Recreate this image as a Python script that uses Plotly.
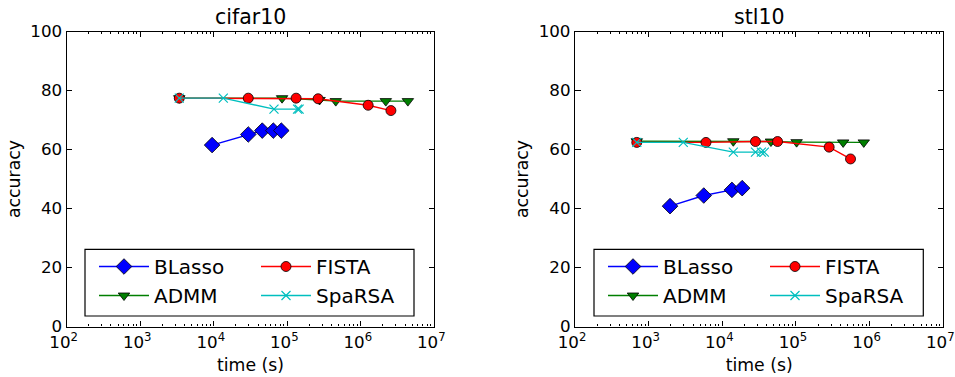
import plotly.graph_objects as go

# ---- data ----
datasets = ["cifar10", "stl10"]
methods = ["BLasso", "ADMM", "FISTA", "SpaRSA"]

cifar_blasso_t = [9500, 29500, 45700, 64600, 83000]
cifar_blasso_acc = [61.5, 65.1, 66.4, 66.4, 66.4]
cifar_admm_t = [3400, 85000, 275000, 457000, 2190000, 4370000]
cifar_admm_acc = [77.4, 77.4, 76.8, 76.4, 76.4, 76.4]
cifar_fista_t = [3400, 29500, 132000, 263000, 1260000, 2570000]
cifar_fista_acc = [77.4, 77.4, 77.4, 77.2, 75.0, 73.2]
cifar_sparsa_t = [3400, 13500, 66000, 138000, 145000]
cifar_sparsa_acc = [77.4, 77.4, 73.7, 73.7, 73.7]

stl_blasso_t = [1950, 5600, 13500, 18600]
stl_blasso_acc = [40.8, 44.4, 46.3, 46.9]
stl_admm_t = [690, 14100, 45700, 102000, 437000, 832000]
stl_admm_acc = [62.8, 62.8, 62.7, 62.5, 62.4, 62.4]
stl_fista_t = [690, 6000, 28200, 56200, 282000, 550000]
stl_fista_acc = [62.4, 62.4, 62.7, 62.7, 60.8, 56.8]
stl_sparsa_t = [690, 2950, 14100, 28200, 33900, 37200]
stl_sparsa_acc = [62.4, 62.4, 59.1, 59.1, 59.1, 59.1]

x_tickvals = [1e2, 1e3, 1e4, 1e5, 1e6, 1e7]
x_ticktext = ["10<sup>2</sup>", "10<sup>3</sup>", "10<sup>4</sup>",
              "10<sup>5</sup>", "10<sup>6</sup>", "10<sup>7</sup>"]
y_tickvals = [0, 20, 40, 60, 80, 100]

# ---- styles ----
FONT = "DejaVu Sans"
styles = {
    "BLasso": dict(color="#0000ff", symbol="diamond", size=12,
                   mline=dict(color="black", width=0.8)),
    "ADMM": dict(color="#007f00", symbol="triangle-down", size=10,
                 mline=dict(color="black", width=0.8)),
    "FISTA": dict(color="#ff0000", symbol="circle", size=10,
                  mline=dict(color="black", width=0.8)),
    "SpaRSA": dict(color="#00bfbf", symbol="x-thin", size=9,
                   mline=dict(color="#00bfbf", width=1.2)),
}

series = {
    "cifar10": {
        "BLasso": (cifar_blasso_t, cifar_blasso_acc),
        "ADMM": (cifar_admm_t, cifar_admm_acc),
        "FISTA": (cifar_fista_t, cifar_fista_acc),
        "SpaRSA": (cifar_sparsa_t, cifar_sparsa_acc),
    },
    "stl10": {
        "BLasso": (stl_blasso_t, stl_blasso_acc),
        "ADMM": (stl_admm_t, stl_admm_acc),
        "FISTA": (stl_fista_t, stl_fista_acc),
        "SpaRSA": (stl_sparsa_t, stl_sparsa_acc),
    },
}

W, H = 955, 377
xdomains = [[66.7 / W, 434.3 / W], [575 / W, 943.3 / W]]
ydomain = [1 - 326.5 / H, 1 - 31.5 / H]

fig = go.Figure()
legend_names = [["legend", "legend2"], ["legend3", "legend4"]]
for i, ds in enumerate(datasets):
    xa = "x" if i == 0 else "x2"
    ya = "y" if i == 0 else "y2"
    for m in methods:
        t, acc = series[ds][m]
        st = styles[m]
        leg = legend_names[i][0] if m in ("BLasso", "ADMM") else legend_names[i][1]
        fig.add_trace(go.Scatter(
            x=t, y=acc, mode="lines+markers", name=m,
            xaxis=xa, yaxis=ya, legend=leg,
            line=dict(color=st["color"], width=1.4),
            marker=dict(symbol=st["symbol"], size=st["size"], color=st["color"],
                        line=st["mline"]),
        ))

minor_vals = [k * 10 ** n for n in range(2, 7) for k in range(2, 10)]

axis_common = dict(
    showline=True, linecolor="black", linewidth=1.3, mirror="ticks",
    ticks="inside", ticklen=5.5, tickwidth=1, tickcolor="black",
    showgrid=False, zeroline=False, automargin=False,
    ticklabeloverflow="allow",
    tickfont=dict(family=FONT, size=16.7, color="black"),
)

layout = dict(
    template="none",
    width=W, height=H, margin=dict(l=0, r=0, t=0, b=0, pad=0),
    plot_bgcolor="white", paper_bgcolor="white",
    font=dict(family=FONT, color="black"),
)
for i in range(2):
    sx = "" if i == 0 else "2"
    layout["xaxis" + sx] = dict(
        axis_common, type="log", range=[2, 7], domain=xdomains[i],
        anchor="y" + sx, tickmode="array", tickvals=x_tickvals, ticktext=x_ticktext,
        ticklabelshift=-3,
        minor=dict(tickmode="array", tickvals=minor_vals, ticks="inside",
                   ticklen=2.8, tickwidth=0.8, tickcolor="black", showgrid=False),
        title=dict(text="time (s)", font=dict(family=FONT, size=17.3), standoff=8),
    )
    layout["yaxis" + sx] = dict(
        axis_common, range=[0, 100], domain=ydomain, anchor="x" + sx,
        tickmode="array", tickvals=y_tickvals,
        title=dict(text="accuracy", font=dict(family=FONT, size=17.3), standoff=5),
    )

# legends: two columns per panel
leg_font = dict(family=FONT, size=20, color="black")
leg_y = 1 - 247 / H
col_x = [[94 / W, 256 / W], [603 / W, 765 / W]]
for i in range(2):
    for j in range(2):
        layout[legend_names[i][j]] = dict(
            x=col_x[i][j], y=leg_y, xanchor="left", yanchor="top",
            bgcolor="rgba(0,0,0,0)", borderwidth=0, font=leg_font,
            itemwidth=50, tracegroupgap=0,
        )

fig.update_layout(**layout)

# legend frames
boxes = [[85 / W, 414 / W], [594 / W, 923.3 / W]]
for bx in boxes:
    fig.add_shape(type="rect", xref="paper", yref="paper",
                  x0=bx[0], x1=bx[1], y0=1 - 316 / H, y1=1 - 249.3 / H,
                  line=dict(color="black", width=1.2), fillcolor="rgba(0,0,0,0)")

# panel titles
for i, ds in enumerate(datasets):
    fig.add_annotation(text=ds, xref="paper", yref="paper",
                       x=(xdomains[i][0] + xdomains[i][1]) / 2, y=1 - 17 / H,
                       xanchor="center", yanchor="middle", showarrow=False,
                       font=dict(family=FONT, size=20.5, color="black"))

fig.write_html("out.html", config={"displayModeBar": False},
               post_script="document.body.style.margin='0px';")
